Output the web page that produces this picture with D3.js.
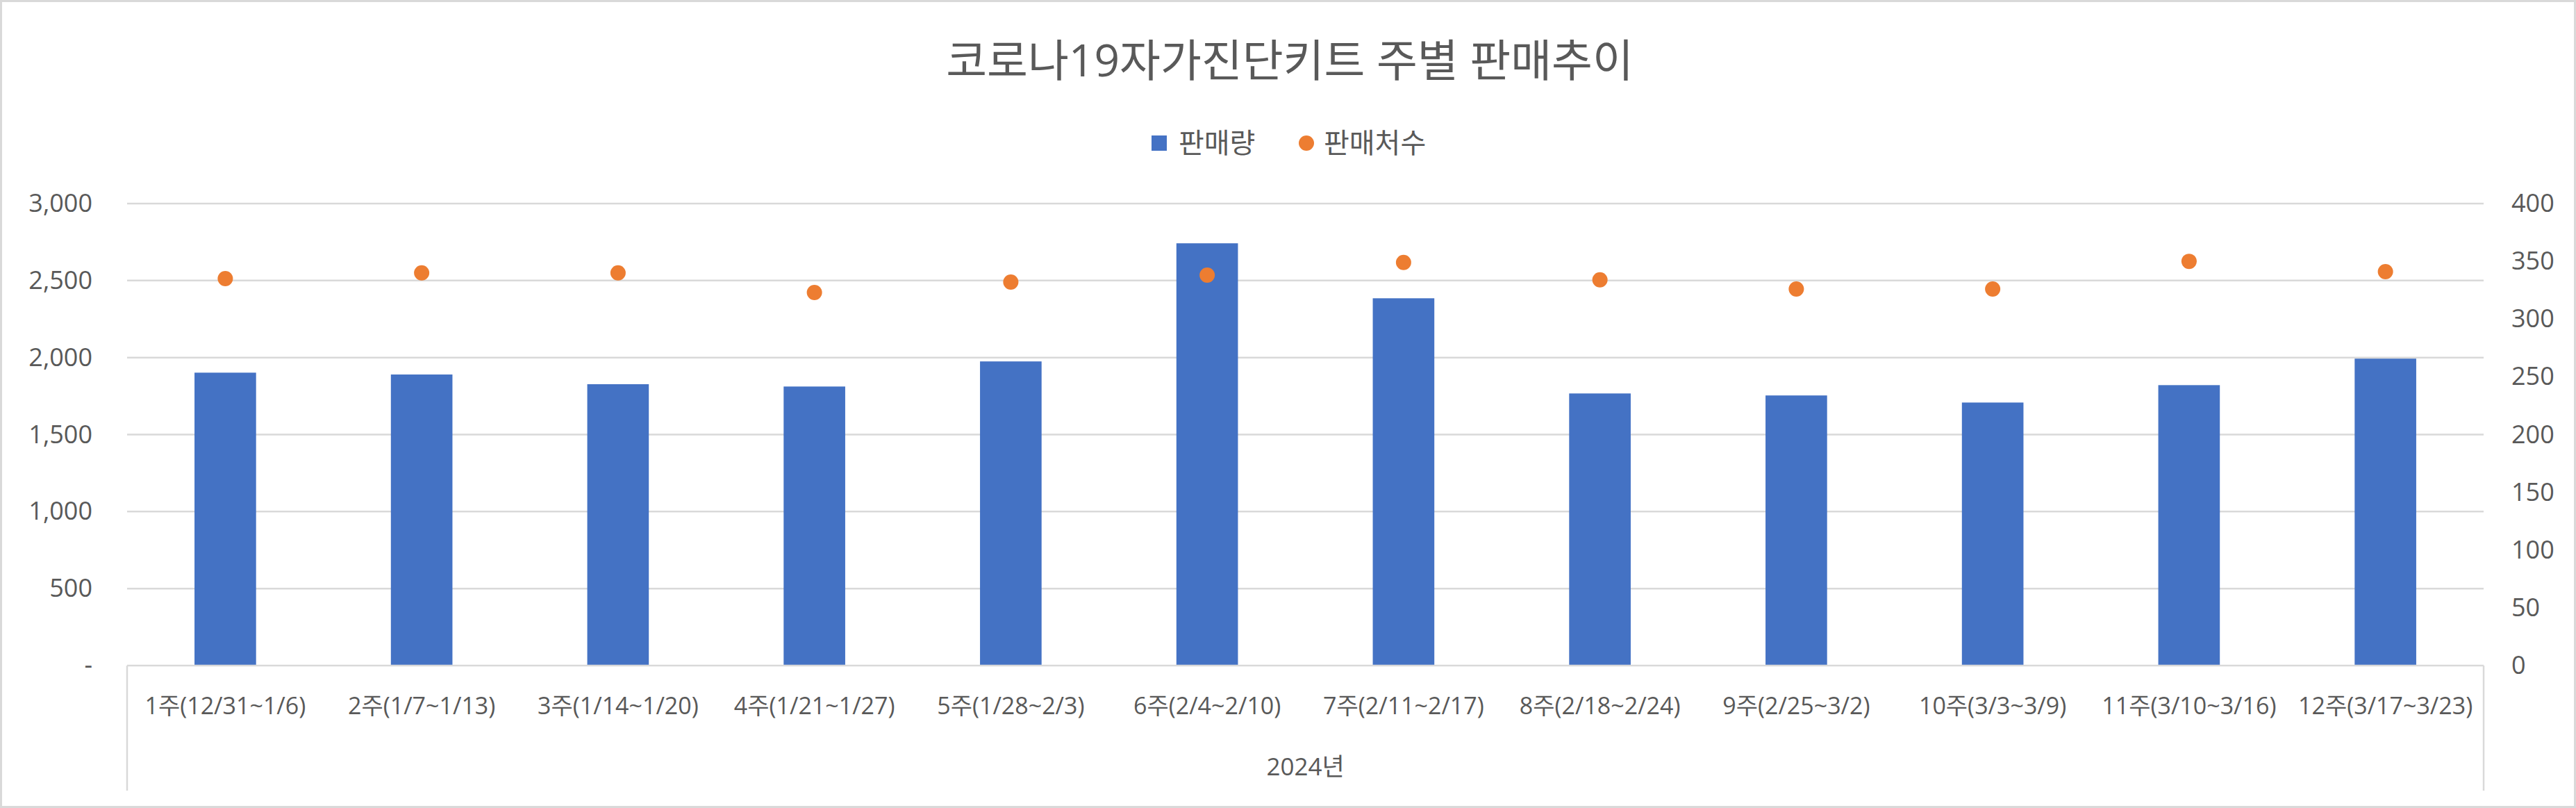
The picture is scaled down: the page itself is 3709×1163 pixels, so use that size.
<!DOCTYPE html>
<html>
<head>
<meta charset="utf-8">
<script src="https://cdn.jsdelivr.net/npm/d3@7"></script>
<style>
  body { margin: 0; background: #fff; }
  text { font-family: "Open Sans", "Noto Sans CJK KR", sans-serif; fill: #595959; }
</style>
</head>
<body>
<script>
const categories = ["1주(12/31~1/6)", "2주(1/7~1/13)", "3주(1/14~1/20)", "4주(1/21~1/27)",
                    "5주(1/28~2/3)", "6주(2/4~2/10)", "7주(2/11~2/17)", "8주(2/18~2/24)",
                    "9주(2/25~3/2)", "10주(3/3~3/9)", "11주(3/10~3/16)", "12주(3/17~3/23)"];
const salesQty = [1902, 1890, 1827, 1812, 1975, 2742, 2385, 1767, 1754, 1708, 1821, 1993];
const storeCount = [335, 340, 340, 323, 332, 338, 349, 334, 326, 326, 350, 341];
const leftTicks = [0, 500, 1000, 1500, 2000, 2500, 3000];
const rightTicks = [0, 50, 100, 150, 200, 250, 300, 350, 400];
const seriesNames = ["판매량", "판매처수"];
const yearLabel = "2024년";
const title = "코로나19자가진단키트 주별 판매추이";

const w = 3709;
const h = 1163;
const plotL = 183, plotR = 3576, plotT = 293, plotB = 958;

const svg = d3.select("body")
              .append("svg")
              .attr("width", w)
              .attr("height", h);

svg.append("rect")
   .attr("x", 1.5).attr("y", 1.5)
   .attr("width", w - 3).attr("height", h - 3)
   .attr("fill", "#fff")
   .attr("stroke", "#d9d9d9")
   .attr("stroke-width", 3);

const x = d3.scaleBand().domain(categories).range([plotL, plotR]);
const y = d3.scaleLinear().domain([0, 3000]).range([plotB, plotT]);
const y2 = d3.scaleLinear().domain([0, 400]).range([plotB, plotT]);

// gridlines
svg.append("g")
   .selectAll("line")
   .data(leftTicks.filter(d => d > 0))
   .enter()
   .append("line")
   .attr("x1", plotL).attr("x2", plotR)
   .attr("y1", d => y(d)).attr("y2", d => y(d))
   .attr("stroke", "#d9d9d9")
   .attr("stroke-width", 2.5);

// bars
const barW = x.bandwidth() * 0.3135;
svg.append("g")
   .selectAll("rect")
   .data(salesQty)
   .enter()
   .append("rect")
   .attr("x", (d, i) => x(categories[i]) + (x.bandwidth() - barW) / 2)
   .attr("y", d => y(d))
   .attr("width", barW)
   .attr("height", d => plotB - y(d))
   .attr("fill", "#4472c4");

// category axis lines
svg.append("line")
   .attr("x1", plotL).attr("x2", plotR)
   .attr("y1", plotB).attr("y2", plotB)
   .attr("stroke", "#d9d9d9").attr("stroke-width", 2.5);
svg.selectAll(".sep")
   .data([plotL, plotR])
   .enter()
   .append("line")
   .attr("class", "sep")
   .attr("x1", d => d).attr("x2", d => d)
   .attr("y1", plotB).attr("y2", 1138)
   .attr("stroke", "#d9d9d9").attr("stroke-width", 2.5);

// dots
svg.append("g")
   .selectAll("circle")
   .data(storeCount)
   .enter()
   .append("circle")
   .attr("cx", (d, i) => x(categories[i]) + x.bandwidth() / 2)
   .attr("cy", d => y2(d))
   .attr("r", 11)
   .attr("fill", "#ed7d31");

// left axis
const gl = svg.append("g")
   .attr("transform", `translate(${plotL - 50},0)`)
   .call(d3.axisLeft(y).tickValues(leftTicks).tickSize(0).tickPadding(0)
           .tickFormat(d => d === 0 ? "-" : d3.format(",")(d)));
gl.select(".domain").remove();
gl.selectAll("text").attr("font-size", 36).attr("fill", "#595959")
  .attr("font-family", "'Open Sans', 'Noto Sans CJK KR', sans-serif");

// right axis
const gr = svg.append("g")
   .attr("transform", `translate(${plotR + 40},0)`)
   .call(d3.axisRight(y2).tickValues(rightTicks).tickSize(0).tickPadding(0));
gr.select(".domain").remove();
gr.selectAll("text").attr("font-size", 36).attr("fill", "#595959")
  .attr("font-family", "'Open Sans', 'Noto Sans CJK KR', sans-serif");

// bottom axis
const gb = svg.append("g")
   .attr("transform", `translate(0,${plotB})`)
   .call(d3.axisBottom(x).tickSize(0));
gb.select(".domain").remove();
gb.selectAll("text")
  .attr("y", 58).attr("dy", "0.35em")
  .attr("font-size", 34).attr("fill", "#595959")
  .attr("font-family", "'Open Sans', 'Noto Sans CJK KR', sans-serif");

svg.append("text")
   .attr("x", (plotL + plotR) / 2)
   .attr("y", 1104)
   .attr("dy", "0.35em")
   .attr("text-anchor", "middle")
   .attr("font-size", 35)
   .text(yearLabel);

// title
svg.append("text")
   .attr("x", 1857)
   .attr("y", 88)
   .attr("dy", "0.35em")
   .attr("text-anchor", "middle")
   .attr("font-size", 64)
   .text(title);

// legend
svg.append("rect")
   .attr("x", 1658).attr("y", 195)
   .attr("width", 22).attr("height", 22)
   .attr("fill", "#4472c4");
svg.append("text")
   .attr("x", 1697).attr("y", 206).attr("dy", "0.35em")
   .attr("font-size", 40)
   .text(seriesNames[0]);
svg.append("circle")
   .attr("cx", 1881).attr("cy", 206).attr("r", 11)
   .attr("fill", "#ed7d31");
svg.append("text")
   .attr("x", 1906).attr("y", 206).attr("dy", "0.35em")
   .attr("font-size", 40)
   .text(seriesNames[1]);
</script>
</body>
</html>
